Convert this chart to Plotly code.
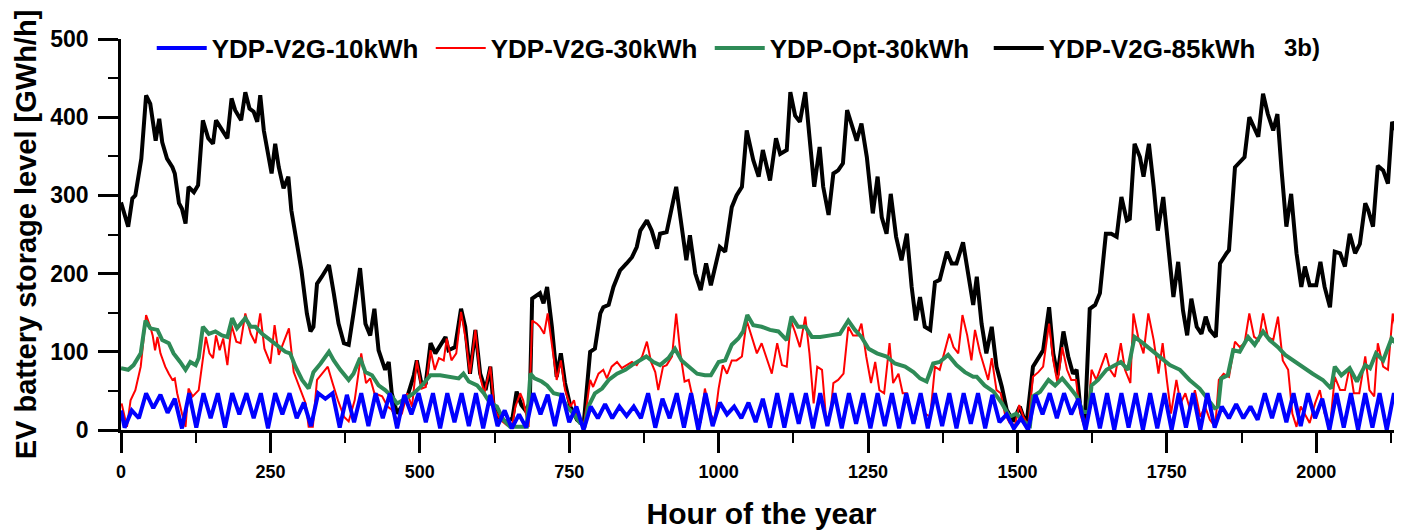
import plotly.graph_objects as go

# ---------------- data ----------------
SERIES_NAMES = ["YDP-V2G-10kWh", "YDP-V2G-30kWh", "YDP-Opt-30kWh", "YDP-V2G-85kWh"]

# YDP-V2G-85kWh (hour, GWh/h)
BLACK_PTS = [(0,291),(12,260),(19,296),(24,300),(34,347),(42,428),(49,417),(58,370),(64,398),(69,368),(77,347),(86,336),(90,328),(97,290),(102,283),(108,264),(113,311),(122,304),(129,313),(137,396),(146,373),(154,366),(159,396),(168,385),(178,373),(185,424),(191,409),(201,396),(208,432),(215,411),(222,407),(228,394),(233,428),(239,383),(247,349),(252,328),(258,366),(264,336),(272,309),(280,324),(285,281),(295,238),(302,204),(311,149),(317,126),(322,132),(328,187),(336,196),(348,211),(356,175),(364,136),(373,111),(381,109),(389,149),(400,207),(409,136),(417,121),(424,155),(431,102),(442,77),(448,87),(453,47),(462,21),(468,28),(480,45),(490,70),(495,89),(503,58),(510,60),(518,111),(526,98),(543,119),(548,102),(559,106),(569,155),(576,132),(584,72),(593,128),(601,72),(610,51),(618,81),(623,34),(632,16),(645,10),(655,15),(662,49),(670,32),(677,25),(684,35),(688,168),(694,172),(701,175),(707,162),(713,183),(721,132),(729,68),(736,98),(743,60),(752,30),(763,13),(774,6),(779,47),(785,100),(793,104),(802,149),(807,157),(816,160),(824,183),(835,204),(846,213),(855,221),(863,234),(869,255),(880,268),(888,255),(897,232),(902,251),(913,253),(922,285),(929,311),(936,272),(946,217),(952,249),(961,200),(970,179),(979,213),(987,185),(996,213),(1002,234),(1011,228),(1022,285),(1030,300),(1039,311),(1047,383),(1058,345),(1067,324),(1074,358),(1086,319),(1096,373),(1103,353),(1114,358),(1120,432),(1128,402),(1136,394),(1145,432),(1152,375),(1160,311),(1169,362),(1175,311),(1184,275),(1192,328),(1200,332),(1208,341),(1215,409),(1225,387),(1231,370),(1239,392),(1248,349),(1258,277),(1266,324),(1273,272),(1281,251),(1288,302),(1297,247),(1306,217),(1315,251),(1323,183),(1330,140),(1337,170),(1345,132),(1354,128),(1362,189),(1370,192),(1382,228),(1390,213),(1398,213),(1409,240),(1418,196),(1426,160),(1432,196),(1440,136),(1448,98),(1457,132),(1465,81),(1474,55),(1482,26),(1493,11),(1504,30),(1515,6),(1526,81),(1535,92),(1543,102),(1553,157),(1560,98),(1567,70),(1577,126),(1585,94),(1593,72),(1599,77),(1605,30),(1613,13),(1621,155),(1630,160),(1638,175),(1648,251),(1657,251),(1666,247),(1674,298),(1683,268),(1688,270),(1696,366),(1705,349),(1711,324),(1720,366),(1728,311),(1735,255),(1744,298),(1752,234),(1761,170),(1769,215),(1777,153),(1784,121),(1791,168),(1800,132),(1808,123),(1815,145),(1822,128),(1832,119),(1839,213),(1850,226),(1854,230),(1864,336),(1872,343),(1880,349),(1888,400),(1894,390),(1903,375),(1911,430),(1919,404),(1928,383),(1935,404),(1942,332),(1950,260),(1958,302),(1967,226),(1975,183),(1981,209),(1989,185),(2000,185),(2007,215),(2014,183),(2023,157),(2031,228),(2040,226),(2048,209),(2056,251),(2065,226),(2073,238),(2082,290),(2087,281),(2095,260),(2103,338),(2112,332),(2120,315),(2127,394),(2136,379),(2143,418)]

# YDP-Opt-30kWh (hour, GWh/h)
GREEN_PTS = [(0,79),(12,77),(21,83),(33,98),(41,140),(49,130),(61,128),(69,115),(80,111),(88,98),(99,87),(108,77),(116,87),(125,83),(130,92),(137,132),(147,123),(158,126),(169,121),(178,119),(186,143),(194,130),(208,143),(217,132),(225,132),(236,123),(250,115),(264,106),(275,100),(283,98),(292,81),(303,64),(314,53),(322,74),(334,85),(348,100),(356,89),(367,77),(381,64),(389,72),(400,92),(409,74),(420,70),(431,57),(442,51),(453,43),(462,34),(476,40),(490,47),(501,55),(518,70),(534,70),(548,68),(565,66),(573,72),(582,62),(596,57),(607,47),(618,34),(629,30),(640,13),(651,4),(668,4),(679,4),(685,72),(692,66),(704,62),(713,57),(724,47),(735,45),(746,30),(757,21),(768,9),(776,6),(782,30),(793,47),(805,53),(816,64),(830,72),(844,77),(855,83),(869,89),(879,94),(891,87),(902,83),(916,92),(927,104),(938,89),(950,81),(964,72),(977,70),(987,70),(1000,87),(1011,89),(1022,109),(1033,117),(1041,126),(1048,147),(1058,134),(1072,132),(1086,128),(1100,126),(1114,115),(1122,145),(1133,132),(1145,132),(1156,119),(1170,119),(1187,121),(1203,123),(1217,140),(1228,128),(1239,119),(1251,104),(1265,98),(1281,94),(1295,85),(1312,81),(1326,74),(1337,66),(1348,62),(1359,85),(1370,87),(1384,96),(1398,83),(1412,74),(1426,68),(1432,68),(1445,57),(1460,49),(1474,34),(1487,17),(1498,21),(1510,11),(1521,6),(1526,43),(1538,49),(1552,64),(1563,57),(1575,66),(1589,53),(1599,43),(1610,23),(1619,23),(1624,57),(1635,64),(1649,77),(1660,81),(1673,87),(1685,77),(1696,119),(1710,111),(1724,102),(1738,94),(1755,83),(1772,77),(1788,64),(1805,53),(1819,38),(1830,28),(1836,30),(1841,66),(1852,70),(1861,102),(1872,100),(1886,119),(1897,109),(1911,126),(1922,115),(1936,106),(1948,96),(1961,89),(1978,81),(1994,72),(2011,64),(2025,53),(2031,81),(2042,70),(2056,79),(2068,62),(2082,83),(2090,79),(2100,98),(2112,89),(2126,117),(2136,109),(2143,106)]

# YDP-V2G-30kWh (hour, GWh/h)
RED_PTS = [(1,34),(10,4),(16,38),(24,51),(33,81),(42,147),(49,132),(53,121),(57,102),(61,119),(66,98),(74,81),(80,72),(86,64),(90,66),(94,47),(102,21),(108,4),(113,53),(120,43),(130,51),(137,87),(142,119),(148,98),(154,92),(159,121),(165,102),(171,117),(178,83),(185,134),(193,113),(200,111),(208,149),(217,123),(225,111),(233,149),(240,104),(250,85),(257,134),(264,96),(272,111),(281,130),(289,74),(300,51),(309,34),(314,4),(321,4),(328,64),(336,72),(346,81),(354,60),(363,38),(373,17),(381,11),(391,38),(402,98),(410,60),(417,66),(424,47),(437,43),(446,30),(453,26),(462,13),(470,21),(479,47),(487,30),(495,89),(503,53),(510,55),(518,102),(525,77),(532,92),(540,89),(545,117),(553,89),(561,98),(569,151),(577,115),(584,72),(593,128),(601,68),(608,47),(618,81),(625,26),(635,13),(646,6),(654,4),(660,30),(668,47),(673,38),(682,4),(688,140),(696,136),(701,132),(708,123),(714,149),(723,98),(729,64),(736,89),(743,51),(752,30),(758,38),(765,13),(774,4),(779,30),(785,64),(790,55),(799,72),(807,77),(813,66),(821,81),(830,87),(838,79),(846,83),(855,87),(863,83),(872,94),(880,113),(887,87),(894,74),(899,51),(907,81),(913,83),(922,94),(929,149),(936,98),(943,62),(950,64),(958,38),(964,15),(970,9),(977,53),(986,21),(993,11),(1000,53),(1007,83),(1014,72),(1022,89),(1030,89),(1039,94),(1047,140),(1055,119),(1064,98),(1072,111),(1081,89),(1089,72),(1098,111),(1106,83),(1114,81),(1121,140),(1128,125),(1136,106),(1145,145),(1152,98),(1159,34),(1165,81),(1173,77),(1180,13),(1187,21),(1192,60),(1200,64),(1209,72),(1217,132),(1225,121),(1232,121),(1239,136),(1247,94),(1255,60),(1262,87),(1269,51),(1277,47),(1286,111),(1292,60),(1301,72),(1308,47),(1315,47),(1321,21),(1329,13),(1337,43),(1345,21),(1354,17),(1362,81),(1370,77),(1379,102),(1386,123),(1393,106),(1401,98),(1408,147),(1416,121),(1423,89),(1429,128),(1437,100),(1446,77),(1451,64),(1457,92),(1465,51),(1472,47),(1479,21),(1487,9),(1496,6),(1503,32),(1510,17),(1518,6),(1526,68),(1535,74),(1543,81),(1553,136),(1560,89),(1567,60),(1575,106),(1583,77),(1590,64),(1598,64),(1605,21),(1612,4),(1618,21),(1624,77),(1632,64),(1640,81),(1648,98),(1655,77),(1663,68),(1673,111),(1680,77),(1689,60),(1694,149),(1702,119),(1711,98),(1719,149),(1728,115),(1736,72),(1743,111),(1750,64),(1757,21),(1766,64),(1773,34),(1781,47),(1789,26),(1797,51),(1806,17),(1814,30),(1822,13),(1831,4),(1837,64),(1845,72),(1854,68),(1864,113),(1872,106),(1880,111),(1888,149),(1896,119),(1904,115),(1911,149),(1919,119),(1928,115),(1936,145),(1944,89),(1953,77),(1960,21),(1967,4),(1974,30),(1981,21),(1989,9),(1998,34),(2006,51),(2014,21),(2023,4),(2031,68),(2040,51),(2048,51),(2056,81),(2063,47),(2072,47),(2082,94),(2089,51),(2097,43),(2103,111),(2112,81),(2120,77),(2128,149),(2136,119),(2143,106)]

# YDP-V2G-10kWh: sampled every 12 h (daily low / daily high alternating), first value at hour 0
BLUE_HOURS = [0] + list(range(6, 2143, 12))
BLUE_LEVEL = [25,
    3,25, 15,47, 28,45, 22,40, 2,47, 3,47, 15,47, 3,47, 20,47, 15,47,
    2,47, 20,47, 15,35, 5,47, 40,47, 3,45, 10,47, 5,47, 15,47, 2,45,
    20,47, 10,47, 2,47, 10,47, 5,47, 2,45, 5,25, 2,20, 3,47, 20,45,
    5,47, 10,30, 0,30, 15,33, 15,30, 18,30, 15,47, 3,40, 15,47, 3,47,
    0,47, 5,35, 20,30, 15,35, 10,40, 3,47, 3,47, 8,47, 2,47, 5,47,
    2,47, 8,47, 2,47, 5,47, 2,47, 8,47, 2,47, 5,47, 2,47, 8,47,
    2,45, 10,20, 2,15, 0,45, 20,47, 15,47, 20,40, 0,47, 2,47, 0,47,
    3,47, 0,47, 2,47, 0,47, 3,47, 0,47, 3,30, 15,33, 15,30, 13,47,
    15,47, 10,47, 5,47, 15,40, 0,47, 3,47, 0,47, 3,47, 0,47,
    5]

X_TICKS = [0, 250, 500, 750, 1000, 1250, 1500, 1750, 2000]
Y_TICKS = [0, 100, 200, 300, 400, 500]
PANEL_LABEL = "3b)"

# ---------------- figure ----------------
FONT = "Liberation Sans, Arial, Helvetica, sans-serif"

def split(pts):
    return [p[0] for p in pts], [p[1] for p in pts]

fig = go.Figure()
bx, by = split(BLACK_PTS)
rx, ry = split(RED_PTS)
gx, gy = split(GREEN_PTS)

fig.add_trace(go.Scatter(x=bx, y=by, mode="lines", name=SERIES_NAMES[3], legendrank=4,
                         line=dict(color="#000000", width=4)))
fig.add_trace(go.Scatter(x=rx, y=ry, mode="lines", name=SERIES_NAMES[1], legendrank=2,
                         line=dict(color="#ff0000", width=2)))
fig.add_trace(go.Scatter(x=gx, y=gy, mode="lines", name=SERIES_NAMES[2], legendrank=3,
                         line=dict(color="#2e8b57", width=4)))
fig.add_trace(go.Scatter(x=BLUE_HOURS, y=BLUE_LEVEL, mode="lines", name=SERIES_NAMES[0], legendrank=1,
                         line=dict(color="#0000ff", width=4)))

# The page body adds an 8 px margin, so the figure is 8 px smaller and margins shifted by 8 px.
fig.update_layout(
    width=1394, height=522, autosize=False,
    margin=dict(l=112.5, r=0, t=31, b=100, autoexpand=False),
    paper_bgcolor="white", plot_bgcolor="white",
    font=dict(family=FONT, color="black"),
    legend=dict(orientation="h", x=0.024, xanchor="left", y=0.977, yanchor="middle",
                bgcolor="rgba(0,0,0,0)", font=dict(size=26, family=FONT, weight="bold"),
                entrywidth=214, entrywidthmode="pixels", itemwidth=50,
                traceorder="normal"),
    showlegend=True,
)

fig.update_xaxes(
    range=[0, 2143.5], tickmode="array", tickvals=X_TICKS,
    showline=True, linecolor="black", linewidth=2.5,
    ticks="outside", ticklen=20, tickwidth=2.5, tickcolor="black",
    minor=dict(ticks="outside", ticklen=10, tickwidth=2, tickcolor="black", dtick=125, tick0=0),
    showgrid=False, zeroline=False,
    tickfont=dict(size=18, family=FONT, weight="bold"), ticklabelstandoff=4,
    title=dict(text="Hour of the year", font=dict(size=30, family=FONT, weight="bold"), standoff=24),
)
fig.update_yaxes(
    range=[0, 500], tickmode="array", tickvals=Y_TICKS,
    showline=True, linecolor="black", linewidth=2.5,
    ticks="outside", ticklen=20, tickwidth=2.5, tickcolor="black",
    minor=dict(ticks="outside", ticklen=10, tickwidth=2, tickcolor="black", dtick=50, tick0=0),
    showgrid=False, zeroline=False,
    tickfont=dict(size=23, family=FONT, weight="bold"), ticklabelstandoff=5,
    title=dict(text="EV battery storage level [GWh/h]", font=dict(size=29, family=FONT, weight="bold"), standoff=6),
)

fig.add_annotation(text=PANEL_LABEL, xref="paper", yref="paper", x=0.922, y=0.977,
                   xanchor="center", yanchor="middle", showarrow=False,
                   font=dict(size=24, family=FONT, weight="bold"))

fig.write_html("out.html")
